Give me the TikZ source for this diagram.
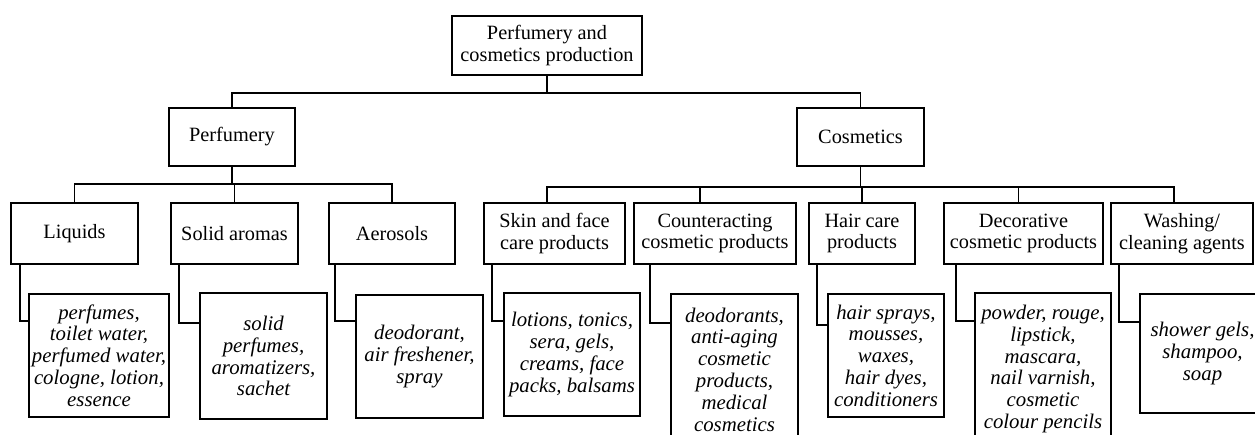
\documentclass[tikz,border=0pt]{standalone}
\usepackage{fontspec}
\setmainfont{Liberation Serif}
\begin{document}
\begin{tikzpicture}[x=1pt,y=1pt,
  box/.style={draw, line width=1.8pt, align=center, inner sep=0pt,
    font=\fontsize{20.3}{21.6}\selectfont},
  leaf/.style={box, font=\fontsize{20.8}{21.8}\selectfont\itshape},
  conn/.style={line width=1.8pt}]
\useasboundingbox (0,0) rectangle (1255,-435);
\clip (0,0) rectangle (1255,-435);
\fill[white] (0,0) rectangle (1255,-435);
% level 0
\node[box, minimum width=190pt, minimum height=59pt] (top) at (547,-45.5) {Perfumery and\\cosmetics production};
% level 1
\node[box, minimum width=126pt, minimum height=58pt] (perf) at (232,-137) {Perfumery};
\node[box, minimum width=127pt, minimum height=58pt] (cosm) at (860.5,-137) {Cosmetics};
% level 2
\node[box, minimum width=127pt, minimum height=61pt] (liq) at (74.5,-233.5) {Liquids};
\node[box, minimum width=127pt, minimum height=61pt] (sol) at (234.5,-233.5) {Solid aromas};
\node[box, minimum width=126pt, minimum height=61pt] (aer) at (392,-233.5) {Aerosols};
\node[box, minimum width=141pt, minimum height=61pt] (skin) at (554.5,-233.5) {Skin and face\\care products};
\node[box, minimum width=162pt, minimum height=61pt] (cnt) at (715,-233.5) {Counteracting\\cosmetic products};
\node[box, minimum width=106pt, minimum height=61pt] (hair) at (862,-233.5) {Hair care\\products};
\node[box, minimum width=159pt, minimum height=61pt] (deco) at (1023.5,-233.5) {Decorative\\cosmetic products};
\node[box, minimum width=142pt, minimum height=61pt] (wash) at (1182,-233.5) {Washing/\\cleaning agents};
% leaves
\node[leaf, minimum width=140pt, minimum height=123pt] (liqL) at (99,-355.5) {perfumes,\\toilet water,\\perfumed water,\\cologne, lotion,\\essence};
\node[leaf, minimum width=127pt, minimum height=126pt] (solL) at (263.5,-356) {solid\\perfumes,\\aromatizers,\\sachet};
\node[leaf, minimum width=127pt, minimum height=123pt] (aerL) at (419.5,-356.5) {deodorant,\\air freshener,\\spray};
\node[leaf, minimum width=136pt, minimum height=123pt] (skinL) at (572,-354.5) {lotions, tonics,\\sera, gels,\\creams, face\\packs, balsams};
\node[leaf, minimum width=127pt, minimum height=151pt] (cntL) at (734.5,-369.5) {deodorants,\\anti-aging\\cosmetic\\products,\\medical\\cosmetics};
\node[leaf, minimum width=116pt, minimum height=123pt] (hairL) at (886,-355.5) {hair sprays,\\mousses,\\waxes,\\hair dyes,\\conditioners};
\node[leaf, minimum width=136pt, minimum height=152pt] (decoL) at (1043,-369) {powder, rouge,\\lipstick,\\mascara,\\nail varnish,\\cosmetic\\colour pencils};
\node[leaf, minimum width=125pt, minimum height=119pt] (washL) at (1202.5,-353.5) {shower gels,\\shampoo,\\soap};
% connectors level 0 -> 1
\draw[conn] (top.south) -- ++(0,-17) -| (perf.north);
\draw[conn] (top.south) ++(0,-17) -| (cosm.north);
% perfumery -> level 2
\draw[conn] (perf.south) -- ++(0,-17) -| (liq.north);
\draw[conn] (perf.south) ++(0,-17) -| (sol.north);
\draw[conn] (perf.south) ++(0,-17) -| (aer.north);
% cosmetics -> level 2
\draw[conn] (cosm.south) -- ++(0,-20) -| ([xshift=-7.5pt]skin.north);
\draw[conn] (cosm.south) ++(0,-20) -| ([xshift=-15pt]cnt.north);
\draw[conn] (cosm.south) ++(0,-20) -| (hair.north);
\draw[conn] (cosm.south) ++(0,-20) -| ([xshift=-5pt]deco.north);
\draw[conn] (cosm.south) ++(0,-20) -| ([xshift=-8pt]wash.north);
% level 2 -> leaves
\draw[conn] ([xshift=10pt]liq.south west) |- ([yshift=-28pt]liqL.north west);
\draw[conn] ([xshift=9pt]sol.south west) |- ([yshift=-31pt]solL.north west);
\draw[conn] ([xshift=7pt]aer.south west) |- ([yshift=-27pt]aerL.north west);
\draw[conn] ([xshift=9pt]skin.south west) |- ([yshift=-29pt]skinL.north west);
\draw[conn] ([xshift=17pt]cnt.south west) |- ([yshift=-30pt]cntL.north west);
\draw[conn] ([xshift=9pt]hair.south west) |- ([yshift=-32pt]hairL.north west);
\draw[conn] ([xshift=13pt]deco.south west) |- ([yshift=-29pt]decoL.north west);
\draw[conn] ([xshift=9pt]wash.south west) |- ([yshift=-29pt]washL.north west);
\end{tikzpicture}
\end{document}
